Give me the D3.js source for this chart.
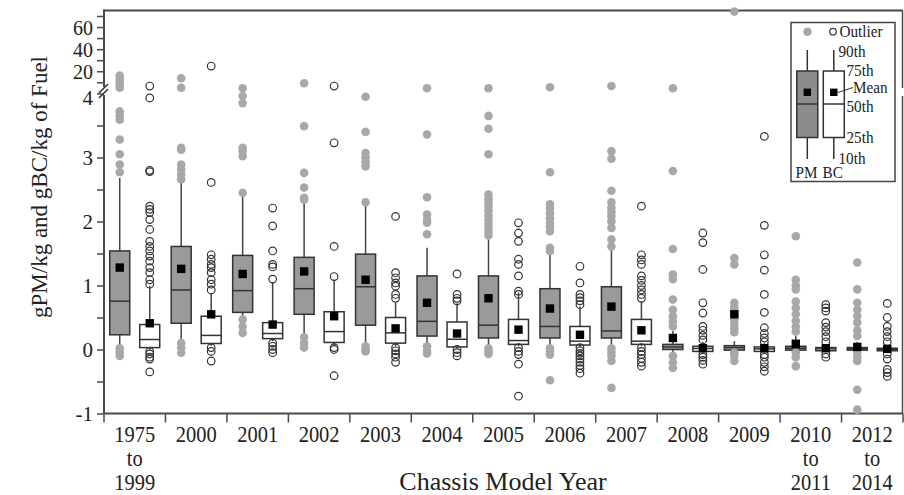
<!DOCTYPE html>
<html><head><meta charset="utf-8">
<script src="https://cdn.jsdelivr.net/npm/d3@7"></script>
<style>
body{margin:0;background:#fff}
svg{display:block}
text{font-family:"Liberation Serif","Times New Roman",serif;fill:#222}
</style>
</head><body>
<svg id="chart" width="904" height="495"></svg>
<script>
// ---------------- data ----------------
const categories = ["1975-1999","2000","2001","2002","2003","2004","2005","2006","2007","2008","2009","2010-2011","2012-2014"];
const categoryLabels = [["1975","to","1999"],["2000"],["2001"],["2002"],["2003"],["2004"],["2005"],["2006"],["2007"],["2008"],["2009"],["2010","to","2011"],["2012","to","2014"]];

// PM (gray boxes)
const pmP10    = [0.05, 0.15, 0.50, 0.21, 0.10, 0.08, 0.05, 0.05, 0.08, -0.05, -0.03, -0.03, -0.03];
const pmP25    = [0.23, 0.41, 0.58, 0.55, 0.38, 0.21, 0.18, 0.18, 0.18, 0.00, -0.01, -0.01, -0.01];
const pmMedian = [0.755,0.93, 0.92, 0.95, 0.98, 0.44, 0.38, 0.36, 0.29, 0.04, 0.03, 0.02, 0.01];
const pmP75    = [1.54, 1.61, 1.47, 1.44, 1.49, 1.15, 1.15, 0.95, 0.98, 0.08, 0.06, 0.05, 0.03];
const pmP90    = [2.68, 2.60, 2.40, 2.29, 2.25, 1.59, 1.72, 1.51, 1.56, 0.29, 0.13, 0.21, 0.12];
const pmMean   = [1.28, 1.26, 1.18, 1.22, 1.09, 0.73, 0.80, 0.64, 0.67, 0.18, 0.55, 0.09, 0.04];
const pmOutliers = [
  [16, 13, 10, 7, 5, 3.72, 3.65, 3.59, 3.28, 3.05, 2.89, 2.77, 0.02, -0.04, -0.10],
  [13.6, 5, 3.15, 3.12, 2.89, 2.81, 2.73, 2.66, 0.10, 0.03, -0.05],
  [4.6, 3.96, 3.85, 3.15, 3.10, 3.02, 2.45, 0.47, 0.36, 0.26],
  [9.1, 3.49, 2.76, 2.53, 2.37, 2.34, 0.19, 0.10, 0.03],
  [3.95, 3.40, 3.07, 3.00, 2.93, 2.86, 2.30, 0.05, 0.00, -0.03],
  [4.6, 3.36, 2.38, 2.11, 2.03, 1.98, 1.80, 0.05, -0.02, -0.06],
  [4.6, 3.65, 3.45, 3.05, 2.42, 2.36, 2.30, 2.24, 2.17, 2.10, 2.03, 1.97, 1.90, 1.84, 1.78, 0.02, -0.03, -0.07],
  [5.5, 2.77, 2.27, 2.20, 2.13, 2.05, 1.98, 1.92, 1.85, 1.59, 1.54, 0.02, -0.03, -0.08, -0.48],
  [6.6, 3.10, 2.98, 2.48, 2.30, 2.22, 2.15, 2.08, 2.00, 1.90, 1.72, 1.61, 0.02, -0.04, -0.10, -0.18, -0.60],
  [4.6, 2.79, 1.57, 1.17, 1.10, 0.78, 0.62, 0.52, 0.44, 0.36, -0.10, -0.20, -0.29],
  [74, 1.43, 1.33, 0.73, 0.66, 0.60, 0.53, 0.46, 0.40, 0.33, 0.27, -0.05, -0.10, -0.18],
  [1.77, 1.09, 1.00, 0.94, 0.75, 0.65, 0.55, 0.45, 0.36, 0.28, -0.05, -0.12, -0.26],
  [1.36, 0.94, 0.73, 0.62, 0.52, 0.42, 0.30, 0.21, -0.05, -0.12, -0.18, -0.63, -0.94]
];

// BC (white boxes)
const bcP10    = [0.00, 0.06, 0.13, 0.06, 0.05, 0.02, 0.05, 0.04, 0.05, -0.05, -0.05, -0.04, -0.04];
const bcP25    = [0.03, 0.094,0.17, 0.11, 0.10, 0.04, 0.08, 0.07, 0.08, -0.03, -0.03, -0.02, -0.02];
const bcMedian = [0.156,0.22, 0.25, 0.28, 0.26, 0.16, 0.14, 0.13, 0.13, 0.016, 0.01, 0.01, 0.00];
const bcP75    = [0.39, 0.52, 0.42, 0.59, 0.50, 0.43, 0.47, 0.36, 0.47, 0.05, 0.04, 0.03, 0.02];
const bcP90    = [0.99, 0.88, 1.05, 1.09, 0.73, 0.72, 0.89, 0.67, 0.75, 0.12, 0.10, 0.08, 0.06];
const bcMean   = [0.41, 0.55, 0.39, 0.52, 0.33, 0.25, 0.31, 0.23, 0.30, 0.02, 0.02, 0.02, 0.01];
const bcOutliers = [
  [6.6, 3.93, 2.80, 2.78, 2.24, 2.19, 2.14, 2.03, 1.875, 1.69, 1.61, 1.54, 1.46, 1.38, 1.28, 1.20, 1.09, 1.02, -0.03, -0.07, -0.12, -0.15, -0.35],
  [24.7, 2.61, 1.48, 1.41, 1.33, 1.28, 1.20, 1.09, 1.02, 0.93, 0.03, -0.03, -0.18],
  [2.21, 1.93, 1.54, 1.33, 1.29, 1.10, 0.10, 0.05, 0.00, -0.05],
  [6.6, 3.23, 1.61, 1.14, 0.03, 0.00, -0.41],
  [2.08, 1.20, 1.12, 1.04, 0.99, 0.86, 0.80, 0.03, -0.02, -0.07, -0.12, -0.20],
  [1.18, 0.86, 0.80, 0.76, 0.00, -0.05, -0.10],
  [1.98, 1.82, 1.69, 1.41, 1.33, 1.15, 0.91, 0.86, 0.03, -0.03, -0.08, -0.23, -0.73],
  [1.30, 1.04, 0.86, 0.81, 0.76, 0.70, 0.03, -0.02, -0.06, -0.10, -0.15, -0.20, -0.25, -0.30, -0.37],
  [2.24, 1.48, 1.40, 1.33, 1.15, 1.08, 1.00, 0.93, 0.86, 0.80, 0.03, -0.03, -0.08, -0.14, -0.20, -0.26],
  [1.82, 1.67, 1.25, 0.73, 0.57, 0.36, 0.30, 0.22, 0.15, -0.08, -0.12, -0.17, -0.23],
  [3.33, 1.94, 1.48, 1.24, 0.86, 0.58, 0.34, 0.25, 0.18, 0.12, -0.08, -0.12, -0.20, -0.27, -0.34],
  [0.70, 0.65, 0.60, 0.42, 0.35, 0.28, 0.20, 0.12, -0.07, -0.12],
  [0.72, 0.50, 0.36, 0.28, 0.20, 0.12, -0.07, -0.15, -0.31, -0.36, -0.42]
];

const lowerTicks = [-1, -0.5, 0, 0.5, 1, 1.5, 2, 2.5, 3, 3.5, 4];
const upperTicks = [10, 20, 30, 40, 50, 60, 70];
const upperLabels = [20, 40, 60];

// ---------------- layout ----------------
const plotL = 104, plotR = 903, plotT = 10.5, plotB = 413.5;
const breakY = 93.5;

const svg = d3.select("#chart");
const x = d3.scaleBand().domain(categories).range([plotL, plotR]);
const yLow = d3.scaleLinear().domain([-1, 4]).range([plotB, breakY]);
const yHigh = d3.scaleLinear().domain([10, 70]).range([82.3, 16]);
const y = v => v <= 4 ? yLow(v) : yHigh(v);

const off = 15, bw = 20;
const axisColor = "#4a4a4a";

// frame lines
svg.append("line").attr("x1", plotL).attr("x2", plotR).attr("y1", plotT).attr("y2", plotT)
  .attr("stroke", axisColor).attr("stroke-width", 2);
svg.append("line").attr("x1", plotR - 0.5).attr("x2", plotR - 0.5).attr("y1", plotT).attr("y2", 88)
  .attr("stroke", axisColor).attr("stroke-width", 1.5);
svg.append("line").attr("x1", plotR - 0.5).attr("x2", plotR - 0.5).attr("y1", 96).attr("y2", plotB)
  .attr("stroke", axisColor).attr("stroke-width", 1.5);

// lower y axis
const axL = d3.axisLeft(yLow).tickValues(lowerTicks).tickSize(7)
  .tickFormat(d => Number.isInteger(d) ? String(d) : "");
const gL = svg.append("g").attr("transform", `translate(${plotL},0)`).call(axL);
gL.select(".domain").remove();
gL.selectAll(".tick line").attr("stroke", axisColor).attr("stroke-width", 1.5);
gL.selectAll(".tick text").attr("font-size", 21).attr("x", -11)
  .attr("dy", d => d === 4 ? "0.5em" : "0.34em")
  .style("font-family", '"Liberation Serif",serif').attr("fill", "#222");

// upper y axis
const axU = d3.axisLeft(yHigh).tickValues(upperTicks).tickSize(7)
  .tickFormat(d => upperLabels.includes(d) ? String(d) : "");
const gU = svg.append("g").attr("transform", `translate(${plotL},0)`).call(axU);
gU.select(".domain").remove();
gU.selectAll(".tick line").attr("stroke", axisColor).attr("stroke-width", 1.5);
gU.selectAll(".tick text").attr("font-size", 20).attr("x", -11).attr("dy", "0.38em")
  .style("font-family", '"Liberation Serif",serif').attr("fill", "#222");

// y axis line with break
svg.append("line").attr("x1", plotL).attr("x2", plotL).attr("y1", plotT - 1).attr("y2", 87)
  .attr("stroke", axisColor).attr("stroke-width", 2);
svg.append("line").attr("x1", plotL).attr("x2", plotL).attr("y1", 95).attr("y2", plotB)
  .attr("stroke", axisColor).attr("stroke-width", 2);
[0, 5].forEach(d => {
  svg.append("line").attr("x1", plotL - 5).attr("y1", 93 + d).attr("x2", plotL + 4).attr("y2", 84 + d)
    .attr("stroke", "#333").attr("stroke-width", 1.6);
});

// x axis
svg.append("line").attr("x1", plotL).attr("x2", plotR).attr("y1", plotB).attr("y2", plotB)
  .attr("stroke", axisColor).attr("stroke-width", 2);
const bounds = categories.map(c => x(c)).concat([plotR]);
svg.selectAll(".xt").data(bounds).enter().append("line")
  .attr("x1", d => d).attr("x2", d => d).attr("y1", plotB).attr("y2", plotB + 9)
  .attr("stroke", axisColor).attr("stroke-width", 1.5);
const xl = svg.selectAll(".xl").data(categories).enter().append("text")
  .attr("text-anchor", "middle").attr("font-size", 22)
  .attr("transform", c => `translate(${x(c) + x.bandwidth() / 2},442) scale(0.93,1.02)`);
xl.each(function (c, i) {
  const t = d3.select(this);
  categoryLabels[i].forEach((line, j) => {
    t.append("tspan").attr("x", 0).attr("y", j * 23.5).text(line);
  });
});

// titles
svg.append("text").attr("text-anchor", "middle").attr("font-size", 26)
  .attr("x", 503).attr("y", 490).text("Chassis Model Year");
svg.append("text").attr("text-anchor", "middle").attr("font-size", 23)
  .attr("transform", "translate(47,187) rotate(-90)")
  .text("gPM/kg and gBC/kg of Fuel");

// ---------------- boxes ----------------
function drawSeries(cls, dx, p10, p25, med, p75, p90, fill) {
  const g = svg.append("g").attr("class", cls);
  const cx = i => x(categories[i]) + x.bandwidth() / 2 + dx;
  const idx = d3.range(categories.length);
  g.selectAll(".wu").data(idx).enter().append("line")
    .attr("x1", cx).attr("x2", cx).attr("y1", i => y(p75[i])).attr("y2", i => y(p90[i]))
    .attr("stroke", "#444").attr("stroke-width", 1.5);
  g.selectAll(".wd").data(idx).enter().append("line")
    .attr("x1", cx).attr("x2", cx).attr("y1", i => y(p25[i])).attr("y2", i => y(p10[i]))
    .attr("stroke", "#444").attr("stroke-width", 1.5);
  g.selectAll(".bx").data(idx).enter().append("rect")
    .attr("x", i => cx(i) - bw / 2).attr("width", bw)
    .attr("y", i => y(p75[i])).attr("height", i => Math.max(1.5, y(p25[i]) - y(p75[i])))
    .attr("fill", fill).attr("stroke", "#333").attr("stroke-width", 1.5);
  g.selectAll(".md").data(idx).enter().append("line")
    .attr("x1", i => cx(i) - bw / 2).attr("x2", i => cx(i) + bw / 2)
    .attr("y1", i => y(med[i])).attr("y2", i => y(med[i]))
    .attr("stroke", "#333").attr("stroke-width", 1.5);
  return { g, cx };
}

const pm = drawSeries("pm", -off, pmP10, pmP25, pmMedian, pmP75, pmP90, "#9a9a9a");
const bc = drawSeries("bc", off, bcP10, bcP25, bcMedian, bcP75, bcP90, "#ffffff");

pmOutliers.forEach((arr, i) => {
  pm.g.selectAll(".o" + i).data(arr).enter().append("circle")
    .attr("cx", pm.cx(i)).attr("cy", d => y(d)).attr("r", 4.3)
    .attr("fill", "#a8a8a8");
});
bcOutliers.forEach((arr, i) => {
  bc.g.selectAll(".o" + i).data(arr).enter().append("circle")
    .attr("cx", bc.cx(i)).attr("cy", d => y(d)).attr("r", 3.8)
    .attr("fill", "none").attr("stroke", "#333").attr("stroke-width", 1.2);
});
[[pm, pmMean], [bc, bcMean]].forEach(([s, m]) => {
  s.g.selectAll(".mn").data(m).enter().append("rect")
    .attr("x", (d, i) => s.cx(i) - 4.2).attr("y", d => y(d) - 4.2)
    .attr("width", 8.4).attr("height", 8.4).attr("fill", "#000");
});

// ---------------- legend ----------------
const lg = svg.append("g");
lg.append("rect").attr("x", 791).attr("y", 22.5).attr("width", 104).attr("height", 159)
  .attr("fill", "#fff").attr("stroke", "#444").attr("stroke-width", 1.5);
lg.append("circle").attr("cx", 807.5).attr("cy", 31.7).attr("r", 4.3).attr("fill", "#a8a8a8");
lg.append("circle").attr("cx", 833).attr("cy", 31.7).attr("r", 3.3).attr("fill", "none")
  .attr("stroke", "#333").attr("stroke-width", 1.2);
[[807.3, "#8c8c8c"], [833.8, "#fff"]].forEach(([cx, f]) => {
  lg.append("line").attr("x1", cx).attr("x2", cx).attr("y1", 50).attr("y2", 71).attr("stroke", "#333").attr("stroke-width", 1.5);
  lg.append("line").attr("x1", cx).attr("x2", cx).attr("y1", 137.5).attr("y2", 159).attr("stroke", "#333").attr("stroke-width", 1.5);
  lg.append("rect").attr("x", cx - 10.5).attr("y", 71).attr("width", 21).attr("height", 66.5)
    .attr("fill", f).attr("stroke", "#333").attr("stroke-width", 1.5);
  lg.append("line").attr("x1", cx - 10.5).attr("x2", cx + 10.5).attr("y1", 104).attr("y2", 104).attr("stroke", "#333").attr("stroke-width", 1.5);
  lg.append("rect").attr("x", cx - 3.7).attr("y", 88.6).attr("width", 7.4).attr("height", 7.4).attr("fill", "#000");
});
lg.append("line").attr("x1", 838).attr("y1", 92.5).attr("x2", 853).attr("y2", 87.5).attr("stroke", "#333").attr("stroke-width", 1);
const legTexts = [["Outlier", 839.5, 37], ["90th", 838.5, 56.5], ["75th", 846.5, 76], ["Mean", 853, 92.5],
  ["50th", 846.5, 111.5], ["25th", 846.5, 142.5], ["10th", 838.5, 163.5], ["PM", 795.5, 178], ["BC", 822.5, 178]];
legTexts.forEach(([t, lx, ly]) => {
  lg.append("text").attr("transform", `translate(${lx},${ly}) scale(0.95,1.05)`).attr("font-size", 16).text(t);
});
</script>
</body></html>
